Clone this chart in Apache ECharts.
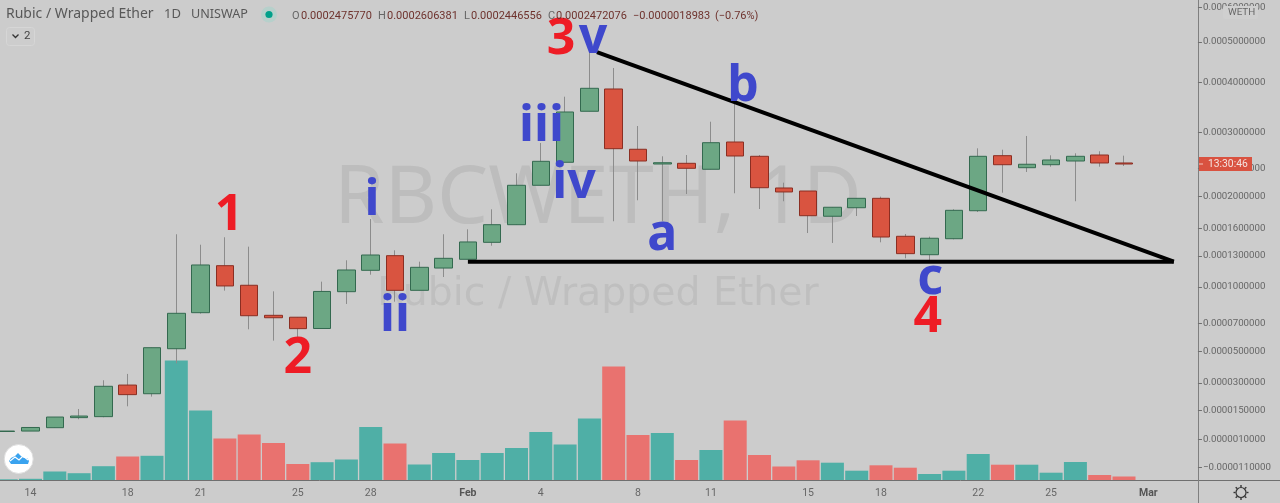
<!DOCTYPE html>
<html><head><meta charset="utf-8">
<style>html,body{margin:0;padding:0;background:#cccccc}#c{width:1280px;height:503px}</style>
<script src="https://cdn.jsdelivr.net/npm/echarts@6/dist/echarts.min.js"></script>
</head><body><div id="c"></div>
<script>
const categories=['Jan 13','Jan 14','Jan 15','Jan 16','Jan 17','Jan 18','Jan 19','Jan 20','Jan 21','Jan 22','Jan 23','Jan 24','Jan 25','Jan 26','Jan 27','Jan 28','Jan 29','Jan 30','Jan 31','Feb 1','Feb 2','Feb 3','Feb 4','Feb 5','Feb 6','Feb 7','Feb 8','Feb 9','Feb 10','Feb 11','Feb 12','Feb 13','Feb 14','Feb 15','Feb 16','Feb 17','Feb 18','Feb 19','Feb 20','Feb 21','Feb 22','Feb 23','Feb 24','Feb 25','Feb 26','Feb 27','Feb 28','Mar 1','Mar 2','Mar 3','Mar 4','Mar 5','Mar 6'];
const tickLabels={'Jan 14':'14','Jan 18':'18','Jan 21':'21','Jan 25':'25','Jan 28':'28','Feb 1':'Feb','Feb 4':'4','Feb 8':'8','Feb 11':'11','Feb 15':'15','Feb 18':'18','Feb 22':'22','Feb 25':'25','Mar 1':'Mar'};
const opens=[.0000046,.0000048,.0000064,.0000113,.0000118,.0000288,.0000239,.0000516,.0000782,.00012,.0001015,.0000761,.0000746,.000066,.0000958,.0001155,.0001301,.000097,.0001177,.0001264,.0001443,.0001644,.0002155,.0002498,.0003397,.0003859,.0002708,.0002471,.0002482,.000239,.0002831,.0002593,.0002117,.0002075,.0001746,.0001853,.0001976,.000151,.0001311,.0001483,.0001815,.0002603,.0002414,.000246,.0002518,.0002614,.0002487];
const lows=[.0000046,.0000048,.0000064,.0000105,.0000115,.0000171,.0000223,.000042,.0000774,.0000967,.0000654,.0000572,.0000598,.0000659,.0000853,.0001113,.0000872,.000097,.0001091,.0001264,.0001406,.0001644,.0002155,.0002498,.0003397,.0001685,.000195,.0001685,.0002034,.000239,.0002044,.0001837,.0001937,.0001547,.0001436,.0001749,.0001443,.0001274,.0001257,.0001476,.0001799,.0002052,.0002349,.0002429,.0001937,.0002429,.000244];
const highs=[.0000048,.0000065,.0000116,.0000157,.0000316,.0000354,.0000523,.0001533,.0001417,.0001499,.0001396,.0000961,.0000746,.0001048,.0001254,.0001712,.0001357,.000124,.0001533,.000159,.0001833,.0002329,.0002814,.0003694,.0004866,.0004339,.0003116,.0002593,.0002614,.0003196,.0003625,.0002614,.0002192,.0002075,.0001859,.0001976,.0001998,.0001536,.0001506,.0001833,.0002724,.0002701,.0002936,.0002609,.0002642,.0002675,.0002603];
const closes=[.0000048,.0000065,.0000116,.0000121,.0000281,.0000234,.0000523,.0000777,.0001207,.0001009,.0000758,.0000742,.0000659,.000096,.0001158,.0001308,.000097,.0001184,.0001274,.0001447,.0001644,.0002155,.0002513,.0003383,.0003874,.0002718,.0002518,.0002491,.0002405,.0002819,.0002598,.0002121,.0002062,.0001753,.0001859,.0001976,.0001502,.0001322,.0001488,.000182,.0002593,.000246,.0002467,.0002534,.0002593,.0002487,.0002471];
const volumes=[.7,1.2,8.5,6.8,13.8,23.5,24.2,119.5,69.5,41.5,45.5,37,16,17.8,20.5,53,36.5,15.5,27,20,27,32,48,35.5,61.5,113.5,45,47,20,30,59.5,25,13.5,19.7,17.3,9.3,14.7,12.3,6,9.3,26,15.3,15.3,7.3,18,5,3.5];
const priceTicks=[.0006,.0005,.0004,.0003,.00024,.0002,.00016,.00013,.0001,.00007,.00005,.00003,.000015,.000001,-.000011];
const waveLabels=[
 {text:'1',day:9.17,price:.000179,color:'#ee1c25'},{text:'2',day:12.0,price:.0000467,color:'#ee1c25'},
 {text:'3',day:22.83,price:.000514,color:'#ee1c25'},{text:'4',day:37.93,price:.0000764,color:'#ee1c25'},
 {text:'i',day:15.05,price:.000199,color:'#3f48cc'},{text:'ii',day:16.0,price:.0000771,color:'#3f48cc'},
 {text:'iii',day:22.03,price:.000315,color:'#3f48cc'},{text:'iv',day:23.37,price:.000222,color:'#3f48cc'},
 {text:'v',day:24.15,price:.000516,color:'#3f48cc'},{text:'a',day:27.0,price:.000155,color:'#3f48cc'},
 {text:'b',day:30.32,price:.000397,color:'#3f48cc'},{text:'c',day:38.02,price:.000109,color:'#3f48cc'}];
const falling=[[24.31,.000473],[48.05,.000124]];
const support=[[19,.000124],[48.05,.000124]];

// the chart's price scale is logarithmic around a shifted origin, so negative ticks exist
const SHIFT=.0001;
const toScale=p=>Math.log((p+SHIFT)*1e5);
const fromScale=t=>Math.exp(t)/1e5-SHIFT;

const wicks=categories.map((_,i)=>i<opens.length?[toScale(opens[i]),toScale(closes[i]),toScale(lows[i]),toScale(highs[i])]:'-');
const bodies=categories.map((_,i)=>i<opens.length?[toScale(opens[i]),toScale(closes[i]),toScale(Math.min(opens[i],closes[i])),toScale(Math.max(opens[i],closes[i]))]:'-');
const volData=volumes.map((v,i)=>({value:v,itemStyle:{color:closes[i]>=opens[i]?'#4fafa6':'#e9726f'}}));

const chart=echarts.init(document.getElementById('c'),null,{renderer:'canvas'});
const AXIS='#6f6f6f',TXT='#666666',F='Roboto';
const header=[['Rubic / Wrapped Ether',6,14],['1D',164,13],['UNISWAP',191,12.6]];
const ohlc=[['O',292,'#666'],['0.0002475770',301,'#6e322d'],['H',378,'#666'],['0.0002606381',387,'#6e322d'],['L',464,'#666'],['0.0002446556',471,'#6e322d'],['C',548,'#666'],['0.0002472076',556,'#6e322d'],['\u22120.0000018983',633,'#6e322d'],['(\u22120.76%)',715,'#6e322d']];
const T=(s,x,y,c,size,extra)=>({type:'text',x,y,z:extra&&extra.z||50,style:Object.assign({text:s,fill:c,font:`${size}px ${extra&&extra.f||'"Noto Sans"'}`,textVerticalAlign:'middle',textAlign:'left'},extra&&extra.s||{})});
const gearTeeth=[0,45,90,135,180,225,270,315].map(a=>{const r=a*Math.PI/180;return {type:'line',z:50,shape:{x1:1241+5.5*Math.cos(r),y1:492.5+5.5*Math.sin(r),x2:1241+7.5*Math.cos(r),y2:492.5+7.5*Math.sin(r)},style:{stroke:'#333',lineWidth:1.4}};});
chart.setOption({
 animation:false,backgroundColor:'#cccccc',
 grid:{left:-5.95,top:0,width:1287.9,height:480,containLabel:false,outerBoundsMode:'none'},
 xAxis:[{type:'category',data:categories,boundaryGap:true,position:'bottom',
   axisLine:{lineStyle:{color:AXIS,width:1}},
   axisTick:{alignWithLabel:true,length:4,interval:(i,v)=>v in tickLabels,lineStyle:{color:AXIS}},
   axisLabel:{interval:(i,v)=>v in tickLabels,margin:8,color:TXT,fontFamily:F,fontSize:10.5,
     formatter:v=>{const l=tickLabels[v];return /[A-Za-z]/.test(l)?`{b|${l}}`:l;},
     rich:{b:{fontWeight:'bold',color:'#555',fontFamily:F,fontSize:10.5}}},
   splitLine:{show:false}},
  {type:'value',min:-.5,max:52.5,show:false}],
 yAxis:[{type:'value',position:'right',offset:-84,min:2.13,max:4.2825,
   axisLine:{show:true,onZero:false,lineStyle:{color:'#7f7f7f',width:1}},
   axisTick:{show:true,length:4,customValues:priceTicks.map(toScale),lineStyle:{color:AXIS}},
   axisLabel:{customValues:priceTicks.map(toScale),margin:5,color:TXT,fontFamily:F,fontSize:9.7,
     formatter:t=>{const p=fromScale(t);return (p<0?'\u2212':'')+Math.abs(p).toFixed(10);}},
   splitLine:{show:false}},
  {type:'value',min:0,max:480,show:false}],
 series:[
  {type:'bar',name:'Volume',xAxisIndex:0,yAxisIndex:1,data:volData,barWidth:23,z:1},
  {type:'candlestick',name:'Range',xAxisIndex:0,yAxisIndex:0,data:wicks,barWidth:1,z:2,
   itemStyle:{color:'#8c8c8c',color0:'#8c8c8c',borderColor:'#8c8c8c',borderColor0:'#8c8c8c',borderWidth:1}},
  {type:'candlestick',name:'RBC/WETH',xAxisIndex:0,yAxisIndex:0,data:bodies,barWidth:18,z:3,
   itemStyle:{color:'#6ca784',color0:'#d95440',borderColor:'#33694f',borderColor0:'#8b2e22',borderWidth:1}},
  {type:'line',name:'Falling trend line',xAxisIndex:1,yAxisIndex:0,data:falling.map(d=>[d[0],toScale(d[1])]),symbol:'none',z:5,lineStyle:{color:'#000',width:4,cap:'butt'}},
  {type:'line',name:'Support line',xAxisIndex:1,yAxisIndex:0,data:support.map(d=>[d[0],toScale(d[1])]),symbol:'none',z:5,lineStyle:{color:'#000',width:4,cap:'butt'}},
  {type:'scatter',name:'Wave labels',xAxisIndex:1,yAxisIndex:0,z:6,symbolSize:1,itemStyle:{color:'rgba(0,0,0,0)',opacity:1},
   data:waveLabels.map(w=>({value:[w.day,toScale(w.price)],label:{show:true,position:'inside',offset:[0,3],formatter:w.text,color:w.color,fontFamily:'"Noto Sans"',fontWeight:'bold',fontSize:50,align:'center',verticalAlign:'middle'}}))}
 ],
 graphic:[
  {type:'text',x:598,y:200,z:-1,style:{text:'RBCWETH, 1D',fill:'#bdbdbd',font:'81px "Noto Sans"',textAlign:'center',textVerticalAlign:'middle'}},
  {type:'text',x:598,y:295,z:-1,style:{text:'Rubic / Wrapped Ether',fill:'#bfbfbf',font:'39.4px "DejaVu Sans"',textAlign:'center',textVerticalAlign:'middle'}},
  ...header.map(h=>T(h[0],h[1],14.5,'#585858',h[2])),
  {type:'circle',z:50,shape:{cx:269,cy:14.5,r:8},style:{fill:'#b6d0cb'}},
  {type:'circle',z:51,shape:{cx:269,cy:14.5,r:3.6},style:{fill:'#00a08a'}},
  ...ohlc.map(o=>T(o[0],o[1],16.5,o[2],11,{f:F})),
  {type:'rect',z:50,shape:{x:6.5,y:27.5,width:28,height:18,r:3},style:{fill:'#cdcdcd',stroke:'#d6d6d6',lineWidth:1}},
  {type:'polyline',z:51,shape:{points:[[12.5,34.5],[15.5,37.5],[18.5,34.5]]},style:{stroke:'#333',fill:'none',lineWidth:1.3}},
  T('2',24,36,'#444',11.5,{f:F}),
  {type:'circle',z:50,shape:{cx:18.7,cy:459,r:14.5},style:{fill:'#fff',stroke:'#dedede',lineWidth:1}},
  {type:'polygon',z:51,shape:{points:[[9,461],[11,458],[15,456],[18,453],[21,456],[24,458],[27,458],[29,461],[28,464],[11,464]]},style:{fill:'#3aa3ef'}},
  {type:'polyline',z:52,shape:{points:[[10,461],[15,457],[19,460],[23,456],[28,460]]},style:{stroke:'#fff',fill:'none',lineWidth:1.2}},
  {type:'line',z:40,shape:{x1:1198.5,y1:480,x2:1198.5,y2:503},style:{stroke:'#7f7f7f',lineWidth:1}},
  {type:'rect',z:60,shape:{x:1199,y:157,width:53,height:14},style:{fill:'#d95240'}},
  {type:'line',z:61,shape:{x1:1199,y1:164,x2:1203,y2:164},style:{stroke:'#f3c7bf',lineWidth:1}},
  T('13:30:46',1208,164.3,'#f4e4e0',10.3,{f:F,z:61}),
  {type:'rect',z:60,shape:{x:1223,y:6,width:35,height:13,r:2},style:{fill:'#cfcfcf'}},
  T('WETH',1228,13,'#666',9.8,{f:F,z:61}),
  {type:'circle',z:50,shape:{cx:1241,cy:492.5,r:5},style:{fill:'none',stroke:'#333',lineWidth:1.2}},
  ...gearTeeth
 ]
});
</script></body></html>
